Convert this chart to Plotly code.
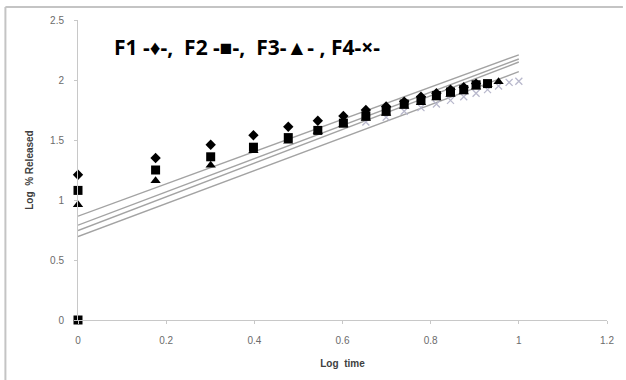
import plotly.graph_objects as go

log_time = [0, 0.176, 0.301, 0.398, 0.477, 0.544, 0.602, 0.653, 0.699, 0.740,
            0.778, 0.813, 0.845, 0.875, 0.903, 0.929, 0.954, 0.978, 1.0]

f1_y = [1.21, 1.35, 1.46, 1.54, 1.61, 1.66, 1.70, 1.75, 1.78, 1.82, 1.86, 1.89, 1.92, 1.94, 1.97]
f2_x = [0] + log_time[:16]
f2_y = [0, 1.08, 1.25, 1.36, 1.44, 1.52, 1.58, 1.64, 1.70, 1.74, 1.80, 1.83, 1.87, 1.90, 1.92, 1.96, 1.97]
f3_y = [0.96, 1.16, 1.29, 1.41, 1.49, 1.57, 1.63, 1.68, 1.72, 1.78, 1.81, 1.85, 1.88, 1.90, 1.94, 1.96, 1.985]
f4_x = log_time[7:]
f4_y = [1.65, 1.69, 1.74, 1.77, 1.80, 1.83, 1.86, 1.89, 1.92, 1.95, 1.98, 1.99]

trend_intercepts = [0.865, 0.79, 0.745, 0.695]
trend_slopes = [1.345, 1.385, 1.405, 1.375]
trend_range = [0, 1]

x_ticks = [0, 0.2, 0.4, 0.6, 0.8, 1, 1.2]
x_ticklabels = ["0", "0.2", "0.4", "0.6", "0.8", "1", "1.2"]
y_ticks = [0, 0.5, 1, 1.5, 2, 2.5]
y_ticklabels = ["0", "0.5", "1", "1.5", "2", "2.5"]

fig = go.Figure()

for b, m in zip(trend_intercepts, trend_slopes):
    fig.add_trace(go.Scatter(x=trend_range, y=[b + m * x for x in trend_range],
                             mode="lines", line=dict(color="#a3a3a3", width=1.4),
                             showlegend=False, hoverinfo="skip"))

fig.add_trace(go.Scatter(x=f4_x, y=f4_y, mode="markers", name="F4", cliponaxis=False,
                         marker=dict(symbol="x-thin", size=7, line=dict(color="#b8b8cc", width=1.3))))
fig.add_trace(go.Scatter(x=log_time[:len(f1_y)], y=f1_y, mode="markers", name="F1", cliponaxis=False,
                         marker=dict(symbol="diamond", size=8, color="black")))
fig.add_trace(go.Scatter(x=log_time[:len(f3_y)], y=f3_y, mode="markers", name="F3", cliponaxis=False,
                         marker=dict(symbol="triangle-up", size=9, color="black")))
fig.add_trace(go.Scatter(x=f2_x, y=f2_y, mode="markers", name="F2", cliponaxis=False,
                         marker=dict(symbol="square", size=9, color="black")))

axis_common = dict(showgrid=False, zeroline=False, showline=True, linecolor="#c8c8c8",
                   linewidth=1, ticks="outside", tickcolor="#c8c8c8", ticklen=3,
                   tickfont=dict(family="Liberation Sans", size=10, color="#6b6b6b"))

fig.update_xaxes(range=[0, 1.2], tickvals=x_ticks, ticktext=x_ticklabels, ticklabelstandoff=8,
                 title=dict(text="<b>Log  time</b>", font=dict(family="Liberation Sans", size=10, color="#404040"),
                            standoff=14), **axis_common)
fig.update_yaxes(range=[0, 2.5], tickvals=y_ticks, ticktext=y_ticklabels, ticklabelstandoff=8,
                 title=dict(text="<b>Log  % Released</b>", font=dict(family="Liberation Sans", size=10, color="#404040"),
                            standoff=14), **axis_common)

fig.add_annotation(text="<b>F1 -♦-,  F2 -■-,  F3-▲- , F4-×-</b>", xref="paper", yref="paper",
                   x=(112 - 78) / 532, y=(320 - 47) / 300, xanchor="left", yanchor="middle",
                   showarrow=False, font=dict(family="Open Sans", size=21, color="black"))

# outer chart frame (top and left edges visible)
fig.add_shape(type="line", xref="paper", yref="paper",
              x0=(5 - 78) / 532, x1=(626 - 78) / 532, y0=(320 - 7) / 300, y1=(320 - 7) / 300,
              line=dict(color="#c4c4c4", width=2))
fig.add_shape(type="line", xref="paper", yref="paper",
              x0=(5 - 78) / 532, x1=(5 - 78) / 532, y0=(320 - 380) / 300, y1=(320 - 7) / 300,
              line=dict(color="#c4c4c4", width=2))

fig.update_layout(width=626, height=380, margin=dict(l=78, r=16, t=20, b=60),
                  plot_bgcolor="white", paper_bgcolor="white", showlegend=False)

fig.write_html("out.html")
